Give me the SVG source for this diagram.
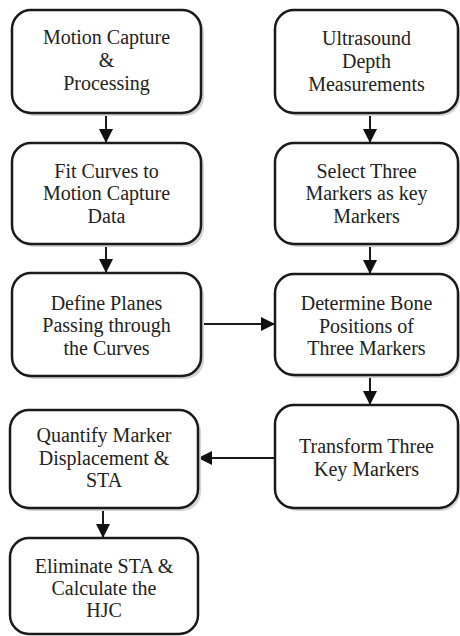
<svg xmlns="http://www.w3.org/2000/svg" width="460" height="636" viewBox="0 0 460 636">
<style>
.box{fill:#fff;stroke:#1a1a1a;stroke-width:2.5}
.sh{fill:#d4d4d4}
.t{font-size:20px;fill:#222;text-anchor:middle}
.c{stroke:#1a1a1a;stroke-width:2;fill:none}
</style>
<defs>
<marker id="ah" viewBox="0 0 14 14" refX="14" refY="7" markerWidth="14" markerHeight="14" markerUnits="userSpaceOnUse" orient="auto">
<path d="M0,0 L14,7 L0,14 Z" fill="#111"/>
</marker>
</defs>
<g id="connectors">
<line class="c" x1="106" y1="113" x2="106" y2="143" marker-end="url(#ah)"/>
<line class="c" x1="106" y1="244" x2="106" y2="273" marker-end="url(#ah)"/>
<line class="c" x1="370" y1="113" x2="370" y2="143" marker-end="url(#ah)"/>
<line class="c" x1="370" y1="244" x2="370" y2="274" marker-end="url(#ah)"/>
<line class="c" x1="370" y1="375" x2="370" y2="405" marker-end="url(#ah)"/>
<line class="c" x1="201" y1="324" x2="275" y2="324" marker-end="url(#ah)"/>
<line class="c" x1="275" y1="458" x2="198" y2="458" marker-end="url(#ah)"/>
<line class="c" x1="103" y1="508" x2="103" y2="538" marker-end="url(#ah)"/>
</g>
<g font-family="Liberation Serif, Times New Roman, serif">
<g id="n1">
<rect class="sh" x="15" y="13" width="189" height="103" rx="19"/>
<rect class="box" x="12" y="10" width="189" height="103" rx="19"/>
<text class="t" x="106.5" y="44">Motion Capture</text>
<text class="t" x="106.5" y="67">&amp;</text>
<text class="t" x="106.5" y="90">Processing</text>
</g>
<g id="n2">
<rect class="sh" x="15" y="146" width="189" height="101" rx="19"/>
<rect class="box" x="12" y="143" width="189" height="101" rx="19"/>
<text class="t" x="106.5" y="178">Fit Curves to</text>
<text class="t" x="106.5" y="200">Motion Capture</text>
<text class="t" x="106.5" y="223">Data</text>
</g>
<g id="n3">
<rect class="sh" x="15" y="276" width="189" height="103" rx="19"/>
<rect class="box" x="12" y="273" width="189" height="103" rx="19"/>
<text class="t" x="106.5" y="310">Define Planes</text>
<text class="t" x="106.5" y="332">Passing through</text>
<text class="t" x="106.5" y="355">the Curves</text>
</g>
<g id="n4">
<rect class="sh" x="13" y="413" width="188" height="98" rx="19"/>
<rect class="box" x="10" y="410" width="188" height="98" rx="19"/>
<text class="t" x="104" y="442">Quantify Marker</text>
<text class="t" x="104" y="465">Displacement &amp;</text>
<text class="t" x="104" y="487">STA</text>
</g>
<g id="n5">
<rect class="box" x="10" y="538" width="188" height="96" rx="19"/>
<text class="t" x="104" y="573">Eliminate STA &amp;</text>
<text class="t" x="104" y="595">Calculate the</text>
<text class="t" x="104" y="617">HJC</text>
</g>
<g id="n6">
<rect class="sh" x="278" y="13" width="182" height="103" rx="19"/>
<rect class="box" x="275" y="10" width="183" height="103" rx="19"/>
<text class="t" x="366.5" y="45">Ultrasound</text>
<text class="t" x="366.5" y="68">Depth</text>
<text class="t" x="366.5" y="91">Measurements</text>
</g>
<g id="n7">
<rect class="sh" x="278" y="146" width="182" height="101" rx="19"/>
<rect class="box" x="275" y="143" width="183" height="101" rx="19"/>
<text class="t" x="366.5" y="178">Select Three</text>
<text class="t" x="366.5" y="200">Markers as key</text>
<text class="t" x="366.5" y="223">Markers</text>
</g>
<g id="n8">
<rect class="sh" x="278" y="277" width="182" height="101" rx="19"/>
<rect class="box" x="275" y="274" width="183" height="101" rx="19"/>
<text class="t" x="366.5" y="310">Determine Bone</text>
<text class="t" x="366.5" y="333">Positions of</text>
<text class="t" x="366.5" y="355">Three Markers</text>
</g>
<g id="n9">
<rect class="sh" x="278" y="408" width="182" height="103" rx="19"/>
<rect class="box" x="275" y="405" width="183" height="103" rx="19"/>
<text class="t" x="366.5" y="453">Transform Three</text>
<text class="t" x="366.5" y="476">Key Markers</text>
</g>
</g>
</svg>
